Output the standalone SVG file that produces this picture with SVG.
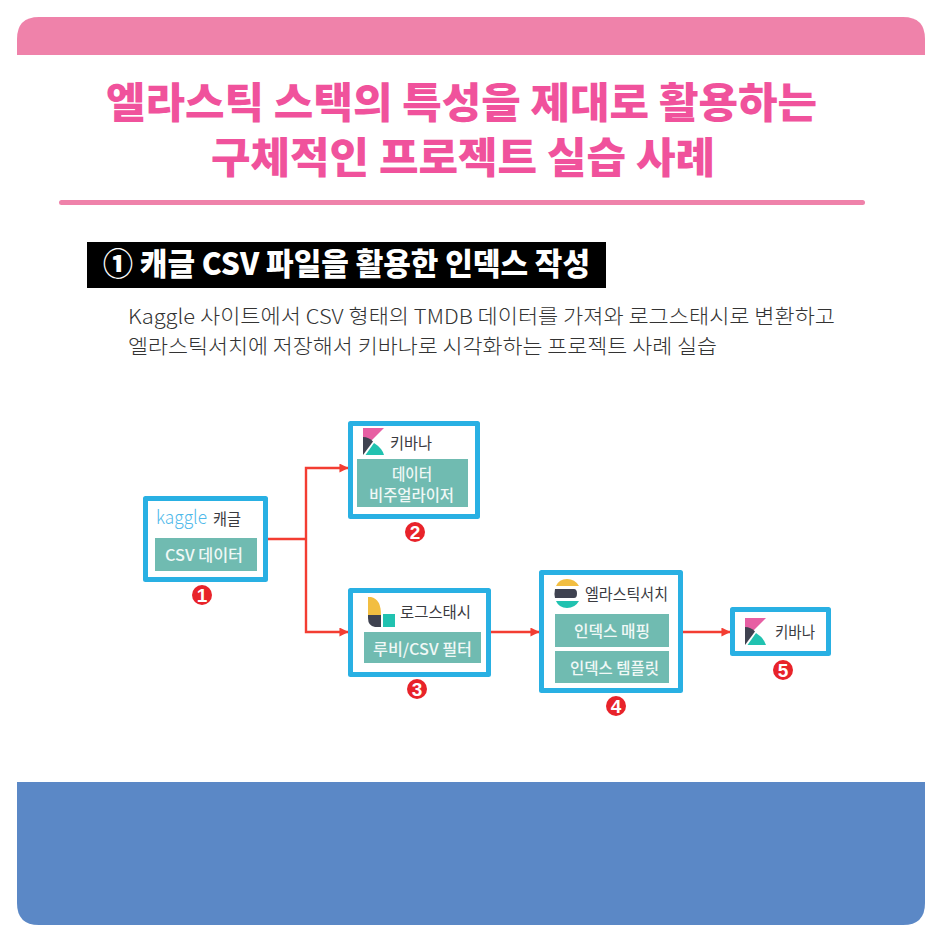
<svg xmlns="http://www.w3.org/2000/svg" width="940" height="940" viewBox="0 0 940 940">
<style>
text{font-family:"Noto Sans CJK KR","Noto Sans",sans-serif}
.box{fill:#fff;stroke:#29B0E3;stroke-width:5;stroke-linejoin:round}
.teal{fill:#70BBB1}
.tl{font-size:15.5px;font-weight:500;fill:#F0F8F6}
.nm{font-size:15.5px;font-weight:400;fill:#3A3A3F}
.ttl{font-size:42px;font-weight:900;fill:#F0529C}
.body{font-size:20.5px;font-weight:300;fill:#333}
.con{fill:none;stroke:#F33D32;stroke-width:2.4}
.bd{fill:#E8232A}
.bt{font-size:19px;font-weight:900;fill:#fff;text-anchor:middle;font-family:"Liberation Sans",sans-serif}
</style>
<defs>
<marker id="ah" viewBox="0 0 10 10" refX="9.500" refY="5" markerWidth="9" markerHeight="9" markerUnits="userSpaceOnUse" orient="auto"><path d="M0 0L10 5L0 10Z" fill="#F33D32"/></marker>
<g id="kib">
<path d="M0 0H21L0 21Z" fill="#E75FA3"/>
<path d="M0 9Q6 9 10 13.500L0 27Z" fill="#3F4250"/>
<path d="M2.500 27L11 15Q19 20 21 27Z" fill="#21C2B0"/>
</g>
</defs>
<rect width="940" height="940" fill="#fff"/>
<path id="top-band" d="M17 55V39Q17 17 39 17H903Q925 17 925 39V55Z" fill="#EF82AA"/>
<path id="bottom-band" d="M17 782H925V903Q925 925 903 925H39Q17 925 17 903Z" fill="#5B88C6"/>
<text class="ttl" x="106" y="118" textLength="711" lengthAdjust="spacingAndGlyphs">엘라스틱 스택의 특성을 제대로 활용하는</text>
<text class="ttl" x="211" y="173" textLength="504" lengthAdjust="spacingAndGlyphs">구체적인 프로젝트 실습 사례</text>
<rect x="59" y="200" width="806" height="5" rx="2.500" fill="#EF82AA"/>
<rect x="87" y="242" width="519" height="46" fill="#000"/>
<text x="103" y="275" font-size="31" font-weight="900" fill="#fff" textLength="487" lengthAdjust="spacingAndGlyphs">① 캐글 CSV 파일을 활용한 인덱스 작성</text>
<text class="body" x="128" y="324" textLength="707" lengthAdjust="spacingAndGlyphs">Kaggle 사이트에서 CSV 형태의 TMDB 데이터를 가져와 로그스태시로 변환하고</text>
<text class="body" x="128" y="354" textLength="589" lengthAdjust="spacingAndGlyphs">엘라스틱서치에 저장해서 키바나로 시각화하는 프로젝트 사례 실습</text>
<g id="connectors">
<path class="con" d="M268 539H306"/>
<path class="con" d="M306 539V468H348" marker-end="url(#ah)"/>
<path class="con" d="M306 539V632H348" marker-end="url(#ah)"/>
<path class="con" d="M491 632H539" marker-end="url(#ah)"/>
<path class="con" d="M683 632H730" marker-end="url(#ah)"/>
</g>
<g id="node-kaggle">
<rect class="box" x="145.500" y="498.500" width="120" height="81"/>
<text x="156" y="524" font-size="19" font-weight="300" fill="#4FB9EA" font-family="Inter,sans-serif" textLength="51" lengthAdjust="spacingAndGlyphs">kaggle</text>
<text class="nm" x="213" y="525" textLength="28" lengthAdjust="spacingAndGlyphs">캐글</text>
<rect class="teal" x="155" y="538" width="102" height="33"/>
<text class="tl" x="165" y="561" textLength="78" lengthAdjust="spacingAndGlyphs">CSV 데이터</text>
</g>
<g id="node-kibana-viz">
<rect class="box" x="350.500" y="423.500" width="127" height="93"/>
<use href="#kib" x="363" y="428"/>
<text class="nm" x="390" y="449" textLength="42" lengthAdjust="spacingAndGlyphs">키바나</text>
<rect class="teal" x="357" y="459" width="111" height="48"/>
<text class="tl" x="392" y="480" textLength="40" lengthAdjust="spacingAndGlyphs">데이터</text>
<text class="tl" x="369" y="501" textLength="85" lengthAdjust="spacingAndGlyphs">비주얼라이저</text>
</g>
<g id="node-logstash">
<rect class="box" x="350.500" y="590.500" width="138" height="84"/>
<path d="M368 597H371Q381 599 381 615H368Z" fill="#F2BE41"/>
<path d="M368 615H381V627H375Q368 626 368 618Z" fill="#3F4250"/>
<rect x="383" y="614" width="12" height="13" fill="#21C2B0"/>
<text class="nm" x="400" y="618" textLength="71" lengthAdjust="spacingAndGlyphs">로그스태시</text>
<rect class="teal" x="364" y="632" width="117" height="31"/>
<text class="tl" x="373" y="655" textLength="99" lengthAdjust="spacingAndGlyphs">루비/CSV 필터</text>
</g>
<g id="node-elastic">
<rect class="box" x="541.500" y="572.500" width="139" height="118"/>
<path d="M556 586Q559 579 567 579Q575 579 579 586Z" fill="#F2BE41"/>
<path d="M555 589H574Q577 589 577 593.500Q577 598 574 598H555Q554 593.500 555 589Z" fill="#3F4250"/>
<path d="M556 601H579Q575 608 567 608Q559 608 556 601Z" fill="#21C2B0"/>
<text class="nm" x="585" y="600" textLength="83" lengthAdjust="spacingAndGlyphs">엘라스틱서치</text>
<rect class="teal" x="555" y="614" width="114" height="33"/>
<text class="tl" x="574" y="637" textLength="76" lengthAdjust="spacingAndGlyphs">인덱스 매핑</text>
<rect class="teal" x="555" y="651" width="114" height="32"/>
<text class="tl" x="570" y="674" textLength="89" lengthAdjust="spacingAndGlyphs">인덱스 템플릿</text>
</g>
<g id="node-kibana">
<rect class="box" x="732.500" y="609.500" width="96" height="44"/>
<use href="#kib" x="745" y="618"/>
<text class="nm" x="775" y="638" textLength="40" lengthAdjust="spacingAndGlyphs">키바나</text>
</g>
<g id="badges">
<circle class="bd" cx="202" cy="595" r="10"/><text class="bt" x="202" y="602">1</text>
<circle class="bd" cx="415" cy="532" r="10"/><text class="bt" x="415" y="539">2</text>
<circle class="bd" cx="417" cy="689" r="10"/><text class="bt" x="417" y="696">3</text>
<circle class="bd" cx="616" cy="706" r="10"/><text class="bt" x="616" y="713">4</text>
<circle class="bd" cx="783" cy="670" r="10"/><text class="bt" x="783" y="677">5</text>
</g>
</svg>
